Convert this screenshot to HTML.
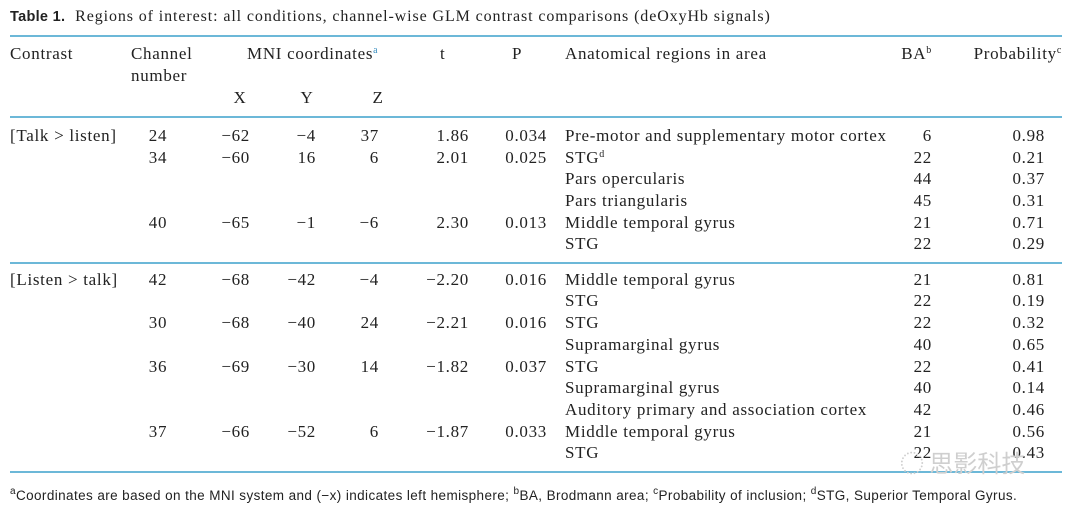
<!DOCTYPE html>
<html><head><meta charset="utf-8"><style>
body{margin:0;width:1080px;height:524px;background:#fff;position:relative;overflow:hidden;font-family:"Liberation Serif",serif;color:#222;}
.t{position:absolute;font-size:17px;letter-spacing:0.7px;white-space:nowrap;line-height:1;}
.r{text-align:right;}
.c{text-align:center;}
.hr{position:absolute;left:10px;width:1052px;height:2px;background:#6cb8d8;}
sup{font-size:10px;line-height:0;vertical-align:6px;}
</style></head><body>
<div class="t" style="left:10px;top:9px;font-size:16px;letter-spacing:0.9px"><b style="font-family:'Liberation Sans',sans-serif;font-size:14.5px;letter-spacing:0.3px">Table 1.</b>&nbsp; Regions of interest: all conditions, channel-wise GLM contrast comparisons (deOxyHb signals)</div>
<div class="hr" style="top:35px"></div>
<div class="t" style="left:10px;top:45px">Contrast</div>
<div class="t" style="left:131px;top:45px">Channel</div>
<div class="t" style="left:131px;top:67px">number</div>
<div class="t" style="left:247px;top:45px">MNI coordinates<sup style="color:#3a8fc0">a</sup></div>
<div class="t" style="left:440px;top:45px">t</div>
<div class="t" style="left:512px;top:45px">P</div>
<div class="t" style="left:565px;top:45px">Anatomical regions in area</div>
<div class="t r" style="left:870px;width:62px;top:45px">BA<sup>b</sup></div>
<div class="t r" style="left:930px;width:132px;top:45px">Probability<sup>c</sup></div>
<div class="t c" style="left:225px;width:30px;top:89px">X</div>
<div class="t c" style="left:292px;width:30px;top:89px">Y</div>
<div class="t c" style="left:363px;width:30px;top:89px">Z</div>
<div class="hr" style="top:116px"></div>
<div class="hr" style="top:262px"></div>
<div class="hr" style="top:471px"></div>
<div id="rows"></div>
<div class="t" style="left:10px;top:489px;font-family:'Liberation Sans',sans-serif;font-size:13.5px;letter-spacing:0.4px"><sup>a</sup>Coordinates are based on the MNI system and (−x) indicates left hemisphere; <sup>b</sup>BA, Brodmann area; <sup>c</sup>Probability of inclusion; <sup>d</sup>STG, Superior Temporal Gyrus.</div>
<div class="t" style="left:900px;top:450px;font-family:'Noto Sans CJK SC',sans-serif;font-size:24px;letter-spacing:0;color:#cfcfcf">◌ 思影科技</div>
<script>
var R=[
[127,"[Talk > listen]","24","−62","−4","37","1.86","0.034","Pre-motor and supplementary motor cortex","6","0.98"],
[149,"","34","−60","16","6","2.01","0.025","STG<sup>d</sup>","22","0.21"],
[170,"","","","","","","","Pars opercularis","44","0.37"],
[192,"","","","","","","","Pars triangularis","45","0.31"],
[214,"","40","−65","−1","−6","2.30","0.013","Middle temporal gyrus","21","0.71"],
[235,"","","","","","","","STG","22","0.29"],
[271,"[Listen > talk]","42","−68","−42","−4","−2.20","0.016","Middle temporal gyrus","21","0.81"],
[292,"","","","","","","","STG","22","0.19"],
[314,"","30","−68","−40","24","−2.21","0.016","STG","22","0.32"],
[336,"","","","","","","","Supramarginal gyrus","40","0.65"],
[358,"","36","−69","−30","14","−1.82","0.037","STG","22","0.41"],
[379,"","","","","","","","Supramarginal gyrus","40","0.14"],
[401,"","","","","","","","Auditory primary and association cortex","42","0.46"],
[423,"","37","−66","−52","6","−1.87","0.033","Middle temporal gyrus","21","0.56"],
[444,"","","","","","","","STG","22","0.43"]];
var h="";
R.forEach(function(r){var y=r[0];
function d(l,w,c,s){h+='<div class="t '+c+'" style="left:'+l+'px;width:'+w+'px;top:'+y+'px">'+s+'</div>';}
d(10,120,"",r[1]);d(140,36,"c",r[2]);d(205,45,"r",r[3]);d(270,46,"r",r[4]);d(330,49,"r",r[5]);
d(400,69,"r",r[6]);d(480,67,"r",r[7]);d(565,340,"",r[8]);d(870,62,"r",r[9]);d(970,75,"r",r[10]);});
document.getElementById("rows").innerHTML=h;
</script>
</body></html>
